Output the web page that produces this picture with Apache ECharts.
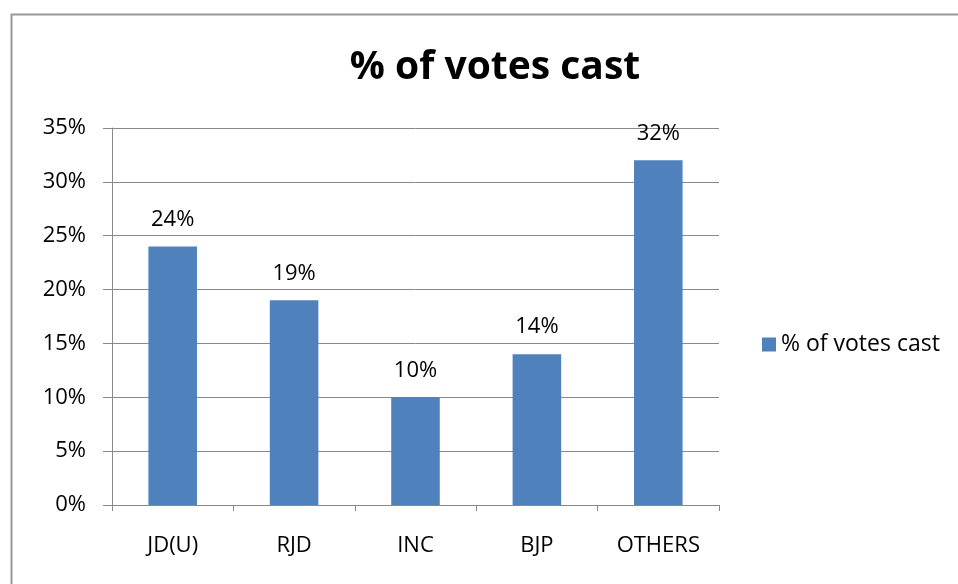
<!DOCTYPE html>
<html><head><meta charset="utf-8">
<script src="https://cdn.jsdelivr.net/npm/echarts@6/dist/echarts.min.js"></script>
<style>html,body{margin:0;padding:0;background:#fff}#c{width:958px;height:584px}</style>
</head><body><div id="c"></div>
<script>
const categories = ['JD(U)', 'RJD', 'INC', 'BJP', 'OTHERS'];
const votesPct = [24, 19, 10, 14, 32];
const seriesName = '% of votes cast';
const yTicks = [0, 5, 10, 15, 20, 25, 30, 35];

const chart = echarts.init(document.getElementById('c'));
const font = 'Open Sans, Noto Sans, sans-serif';
chart.setOption({
  animation: false,
  backgroundColor: '#fff',
  title: {
    text: seriesName, left: 490, textAlign: 'center', top: 43,
    textStyle: {fontFamily: font, fontWeight: 'bold', fontSize: 39, color: '#000'}
  },
  graphic: [{type: 'rect', shape: {x: 11.5, y: 14.5, width: 1000, height: 1000},
    style: {fill: 'none', stroke: '#999', lineWidth: 2}, silent: true}],
  legend: {
    data: [seriesName], left: 757, top: 328, itemWidth: 14, itemHeight: 14, itemGap: 7,
    icon: 'rect',
    textStyle: {fontFamily: font, fontSize: 23, color: '#000'}
  },
  grid: {left: 112, right: 239, top: 128, bottom: 79, containLabel: false},
  xAxis: {
    type: 'category', data: categories,
    axisLine: {lineStyle: {color: '#888', width: 1}},
    axisTick: {show: true, length: 6, lineStyle: {color: '#888'}},
    axisLabel: {fontFamily: font, fontSize: 22, color: '#000', margin: 30}
  },
  yAxis: {
    type: 'value', min: 0, max: 35, interval: 5,
    axisLine: {show: true, lineStyle: {color: '#888'}},
    axisTick: {show: true, length: 9, lineStyle: {color: '#888'}},
    splitLine: {lineStyle: {color: '#888', width: 1}},
    axisLabel: {fontFamily: font, fontSize: 22, color: '#000', margin: 26,
      formatter: v => yTicks.includes(v) ? v + '%' : ''}
  },
  series: [{
    name: seriesName, type: 'bar', data: votesPct, barWidth: '40%',
    itemStyle: {color: '#4F81BD'},
    label: {show: true, position: 'top', distance: 16, formatter: p => p.value + '%',
      fontFamily: font, fontSize: 22, color: '#000'}
  }]
});
</script></body></html>
